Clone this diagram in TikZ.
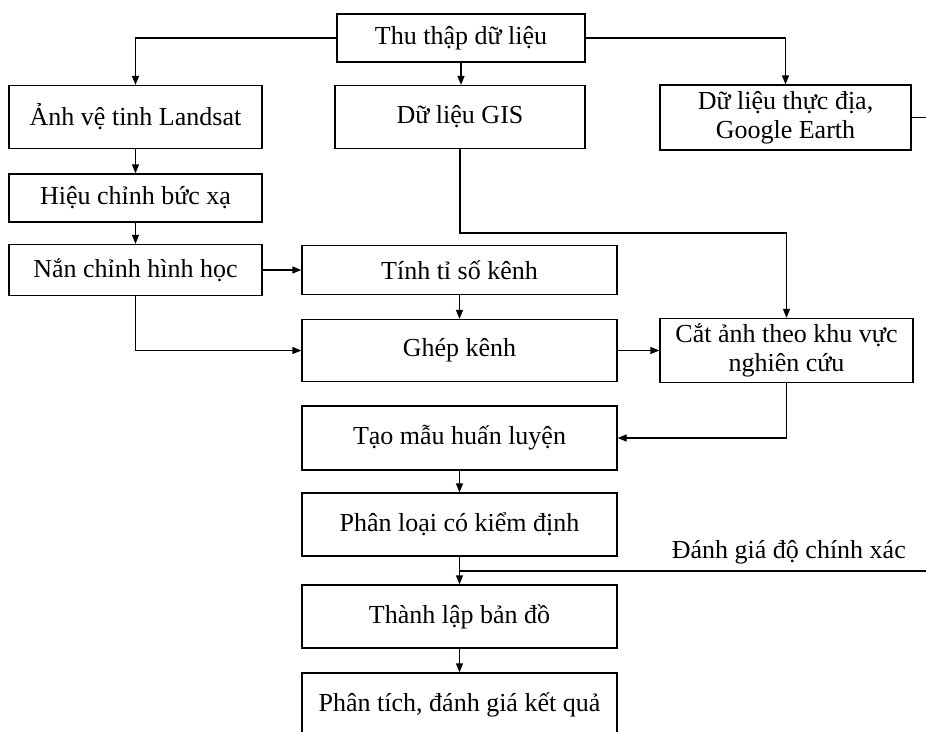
\documentclass[tikz,border=0pt]{standalone}
\usepackage{fontspec}
\setmainfont{Liberation Serif}
\usetikzlibrary{arrows.meta}

\begin{document}
\begin{tikzpicture}[x=1pt, y=-1pt,
    box/.style={draw, line width=1.3pt, rectangle, align=center,
      inner sep=2pt, font=\fontsize{26}{29}\selectfont},
    arr/.style={->, line width=1.3pt},
    >={Triangle[length=9pt, width=7pt]}]
      \clip (0,0) rectangle (926,731);

      % Top row
      \node[box, minimum width=248, minimum height=48] (collect) at (461,38) {Thu thập dữ liệu};
      \node[box, minimum width=253, minimum height=63] (landsat) at (135.5,117) {Ảnh vệ tinh Landsat};
      \node[box, minimum width=250, minimum height=63] (gis) at (460,117) {Dữ liệu GIS};
      \node[box, minimum width=251, minimum height=65] (field) at (785.5,117.5) {Dữ liệu thực địa,\\Google Earth};

      % Preprocessing
      \node[box, minimum width=253, minimum height=48] (radio) at (135.5,198) {Hiệu chỉnh bức xạ};
      \node[box, minimum width=253, minimum height=51] (geom) at (135.5,270) {Nắn chỉnh hình học};
      \node[box, minimum width=315, minimum height=49] (ratio) at (459.5,270) {Tính tỉ số kênh};
      \node[box, minimum width=315, minimum height=62] (stack) at (459.5,350.5) {Ghép kênh};
      \node[box, minimum width=253, minimum height=64] (clipimg) at (786.5,350.5) {Cắt ảnh theo khu vực\\nghiên cứu};

      % Classification chain
      \node[box, minimum width=315, minimum height=64] (train) at (459.5,438) {Tạo mẫu huấn luyện};
      \node[box, minimum width=315, minimum height=63] (classify) at (459.5,524.5) {Phân loại có kiểm định};
      \node[box, minimum width=315, minimum height=63] (mapping) at (459.5,616.5) {Thành lập bản đồ};
      \node[box, minimum width=315, minimum height=63] (analysis) at (459.5,704.5) {Phân tích, đánh giá kết quả};

      % Helper points
      \coordinate (gisturn) at (460,233);
      \coordinate (fieldout) at (940,117.5);
      \coordinate (accout) at (940,571);
      \coordinate (accin) at (460,571);
      \node[anchor=south east, inner sep=0pt, font=\fontsize{26}{29}\selectfont] (acclabel) at (906,564) {Đánh giá độ chính xác};

      % Connectors
      \draw[arr] (collect.west) -| (landsat.north);
      \draw[arr] (collect.south) -- (collect.south |- gis.north);
      \draw[arr] (collect.east) -| (field.north);
      \draw[line width=1.3pt] (field.east) -- (fieldout);
      \draw[arr] (landsat.south) -- (radio.north);
      \draw[arr] (radio.south) -- (geom.north);
      \draw[arr] (geom.east) -- (ratio.west);
      \draw[arr] (geom.south) |- (stack.west);
      \draw[arr] (ratio.south) -- (stack.north);
      \draw[arr] (gis.south) -- (gisturn) -| (clipimg.north);
      \draw[arr] (stack.east) -- (clipimg.west);
      \draw[arr] (clipimg.south) |- (train.east);
      \draw[arr] (train.south) -- (classify.north);
      \draw[arr] (classify.south) -- (mapping.north);
      \draw[line width=1.3pt] (accout) -- (accin);
      \draw[arr] (mapping.south) -- (analysis.north);
\end{tikzpicture}
\end{document}
